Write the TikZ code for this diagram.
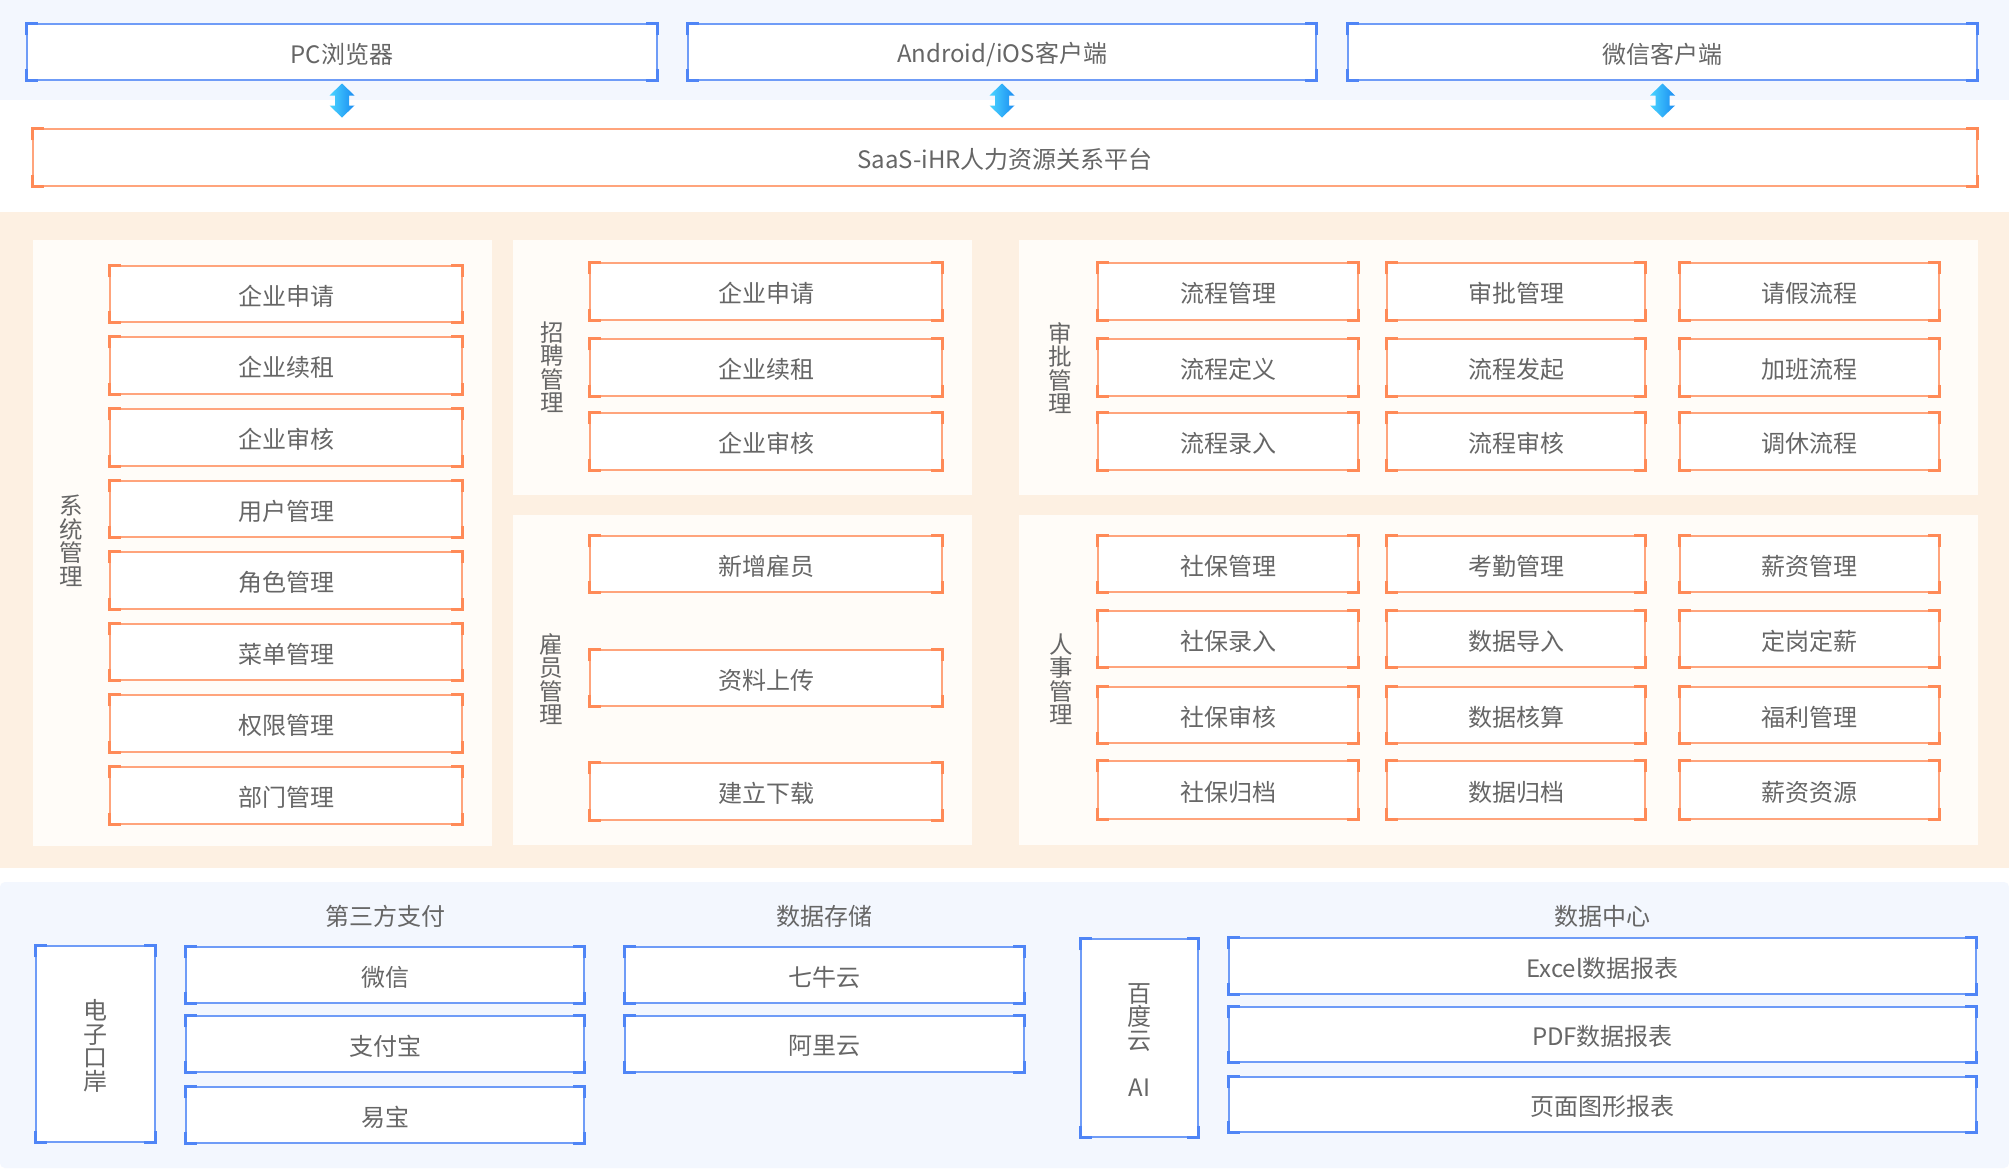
\documentclass[tikz,border=0pt]{standalone}
\usepackage{fontspec}
\setmainfont{Noto Sans CJK SC}
\usetikzlibrary{calc}
\definecolor{topbg}{HTML}{F3F7FE}
\definecolor{orbg}{HTML}{FDF0E2}
\definecolor{panelbg}{HTML}{FFFCF8}
\definecolor{bline}{HTML}{6F9CF7}
\definecolor{bbrk}{HTML}{4F85F6}
\definecolor{oline}{HTML}{FFA47C}
\definecolor{obrk}{HTML}{FF8A57}
\definecolor{txt}{HTML}{666666}
\definecolor{arrL}{HTML}{4AD4FF}
\definecolor{arrR}{HTML}{1A8CF2}
\tikzset{
  boxo/.style={draw=oline, line width=1.5pt, fill=white, inner sep=0pt},
  boxb/.style={draw=bline, line width=1.5pt, fill=white, inner sep=0pt},
  boxtext/.style={inner sep=0pt, align=center, text=txt, font=\fontsize{24}{23.5}\selectfont},
  brko/.style={draw=obrk, line width=3pt},
  brkb/.style={draw=bbrk, line width=3pt},
  vlabel/.style={align=center, text=txt, font=\fontsize{23.5}{23.5}\selectfont, inner sep=0pt},
  glabel/.style={text=txt, font=\fontsize{24}{24}\selectfont, inner sep=0pt},
  updown/.style={left color=arrL, right color=arrR, draw=none},
}
% name, x1, y1, x2, y2, scheme (o/b), text
\newcommand\mybox[7]{%
  \node[box#6, minimum width={(#4)-(#2)}, minimum height={(#5)-(#3)}] (#1) at ({((#2)+(#4))/2},{((#3)+(#5))/2}) {};
  \node[boxtext] (#1t) at ([yshift=-2pt]#1.center) {#7};
  \draw[brk#6] ([yshift=-12pt]#1.north west) -- (#1.north west) -- ([xshift=12pt]#1.north west);
  \draw[brk#6] ([yshift=-12pt]#1.north east) -- (#1.north east) -- ([xshift=-12pt]#1.north east);
  \draw[brk#6] ([yshift=12pt]#1.south west) -- (#1.south west) -- ([xshift=12pt]#1.south west);
  \draw[brk#6] ([yshift=12pt]#1.south east) -- (#1.south east) -- ([xshift=-12pt]#1.south east);
}
% double arrow between two nodes (upper, lower)
\newcommand\myudarrow[3]{%
  \coordinate (#1) at ($(#2.south)!0.5!(#2.south |- #3.north)$);
  \shade[updown] ([yshift=21pt]#1) -- ++(12.5,12) -- ++(-5.5,0) -- ++(0,10) -- ++(5.5,0) -- ++(-12.5,12) -- ++(-12.5,-12) -- ++(5.5,0) -- ++(0,-10) -- ++(-5.5,0) -- cycle;
}
\begin{document}
\begin{tikzpicture}[x=1pt, y=-1pt]
\useasboundingbox (0,0) rectangle (2009,1171);
% backgrounds
\fill[white] (0,0) rectangle (2009,1171);
\fill[topbg] (0,0) rectangle (2009,100);
\fill[orbg] (0,212) rectangle (2009,868);
\fill[topbg, rounded corners=5pt] (0,882) rectangle (2009,1168);
\fill[panelbg] (33,240) rectangle (492,846);
\fill[panelbg] (513,240) rectangle (972,495);
\fill[panelbg] (513,515) rectangle (972,845);
\fill[panelbg] (1019,240) rectangle (1978,495);
\fill[panelbg] (1019,515) rectangle (1978,845);

% top clients
\mybox{pc}{27}{24}{657}{80}{b}{PC浏览器}
\mybox{app}{688}{24}{1316}{80}{b}{Android/iOS客户端}
\mybox{wx}{1348}{24}{1977}{80}{b}{微信客户端}
\mybox{saas}{33}{129}{1977}{186}{o}{SaaS-iHR人力资源关系平台}
\myudarrow{a1}{pc}{saas}
\myudarrow{a2}{app}{saas}
\myudarrow{a3}{wx}{saas}

% panel 1: 系统管理
\node[vlabel] (lsys) at (71,541) {系\\统\\管\\理};
\mybox{s1}{110}{266}{462}{322}{o}{企业申请}
\mybox{s2}{110}{337}{462}{394}{o}{企业续租}
\mybox{s3}{110}{409}{462}{466}{o}{企业审核}
\mybox{s4}{110}{481}{462}{537}{o}{用户管理}
\mybox{s5}{110}{552}{462}{609}{o}{角色管理}
\mybox{s6}{110}{624}{462}{680}{o}{菜单管理}
\mybox{s7}{110}{695}{462}{752}{o}{权限管理}
\mybox{s8}{110}{767}{462}{824}{o}{部门管理}

% panel 2: 招聘管理
\node[vlabel] (lrec) at (552,367) {招\\聘\\管\\理};
\mybox{r1}{590}{263}{942}{320}{o}{企业申请}
\mybox{r2}{590}{339}{942}{396}{o}{企业续租}
\mybox{r3}{590}{413}{942}{470}{o}{企业审核}

% panel 3: 雇员管理
\node[vlabel] (lemp) at (551,679) {雇\\员\\管\\理};
\mybox{e1}{590}{536}{942}{592}{o}{新增雇员}
\mybox{e2}{590}{650}{942}{706}{o}{资料上传}
\mybox{e3}{590}{763}{942}{820}{o}{建立下载}

% panel 4: 审批管理
\node[vlabel] (lapp) at (1060,368) {审\\批\\管\\理};
\mybox{p11}{1098}{263}{1358}{320}{o}{流程管理}
\mybox{p12}{1387}{263}{1645}{320}{o}{审批管理}
\mybox{p13}{1680}{263}{1939}{320}{o}{请假流程}
\mybox{p21}{1098}{339}{1358}{396}{o}{流程定义}
\mybox{p22}{1387}{339}{1645}{396}{o}{流程发起}
\mybox{p23}{1680}{339}{1939}{396}{o}{加班流程}
\mybox{p31}{1098}{413}{1358}{470}{o}{流程录入}
\mybox{p32}{1387}{413}{1645}{470}{o}{流程审核}
\mybox{p33}{1680}{413}{1939}{470}{o}{调休流程}

% panel 5: 人事管理
\node[vlabel] (lhr) at (1061,679) {人\\事\\管\\理};
\mybox{h11}{1098}{536}{1358}{592}{o}{社保管理}
\mybox{h12}{1387}{536}{1645}{592}{o}{考勤管理}
\mybox{h13}{1680}{536}{1939}{592}{o}{薪资管理}
\mybox{h21}{1098}{611}{1358}{667}{o}{社保录入}
\mybox{h22}{1387}{611}{1645}{667}{o}{数据导入}
\mybox{h23}{1680}{611}{1939}{667}{o}{定岗定薪}
\mybox{h31}{1098}{687}{1358}{743}{o}{社保审核}
\mybox{h32}{1387}{687}{1645}{743}{o}{数据核算}
\mybox{h33}{1680}{687}{1939}{743}{o}{福利管理}
\mybox{h41}{1098}{761}{1358}{819}{o}{社保归档}
\mybox{h42}{1387}{761}{1645}{819}{o}{数据归档}
\mybox{h43}{1680}{761}{1939}{819}{o}{薪资资源}

% bottom
\mybox{port}{36}{946}{155}{1142}{b}{电\\子\\口\\岸}
\node[glabel] (lpay) at (385,916) {第三方支付};
\mybox{pay1}{186}{947}{584}{1003}{b}{微信}
\mybox{pay2}{186}{1016}{584}{1072}{b}{支付宝}
\mybox{pay3}{186}{1087}{584}{1143}{b}{易宝}
\node[glabel] (lsto) at (824,916) {数据存储};
\mybox{st1}{625}{947}{1024}{1003}{b}{七牛云}
\mybox{st2}{625}{1016}{1024}{1072}{b}{阿里云}
\mybox{bd}{1081}{939}{1198}{1137}{b}{百\\度\\云\\[23.5pt]AI}
\node[glabel] (ldc) at (1602,916) {数据中心};
\mybox{dc1}{1229}{938}{1976}{994}{b}{Excel数据报表}
\mybox{dc2}{1229}{1007}{1976}{1062}{b}{PDF数据报表}
\mybox{dc3}{1229}{1077}{1976}{1132}{b}{页面图形报表}
\end{tikzpicture}
\end{document}
